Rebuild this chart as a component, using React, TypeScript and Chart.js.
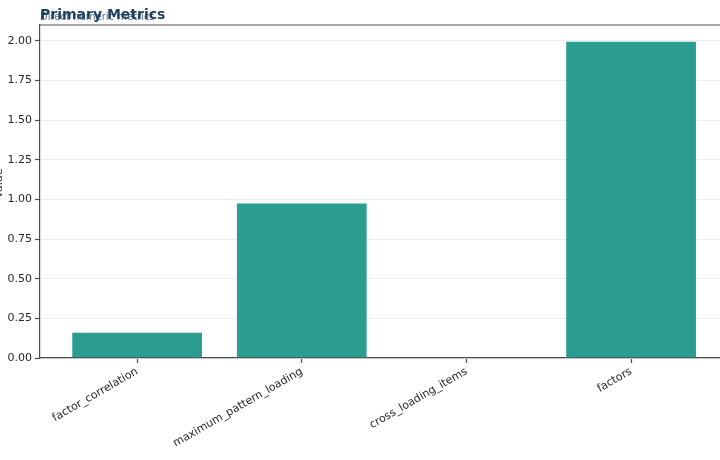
import { Chart, registerables } from "chart.js";
import { useEffect, useRef } from "react";

Chart.register(...registerables);

const categories = ["factor_correlation", "maximum_pattern_loading", "cross_loading_items", "factors"];
const values = [0.165, 0.98, 0, 2.0];
const yTicks = [0, 0.25, 0.5, 0.75, 1.0, 1.25, 1.5, 1.75, 2.0];

const TITLE = "Primary Metrics";
const SUBTITLE = "Direct numeric metrics";
const Y_LABEL = "Value";

const barColor = "#2a9d8f";
const spineColor = "#4d4d4d";
const textColor = "#262626";
const font = "'DejaVu Sans', sans-serif";

// title, subtitle, top spine and the clipped y label
const decorations = {
  id: "decorations",
  afterDraw(chart: any) {
    const { ctx, chartArea } = chart;
    ctx.save();
    ctx.strokeStyle = spineColor;
    ctx.lineWidth = 1.2;
    ctx.beginPath();
    ctx.moveTo(chartArea.left, chartArea.top);
    ctx.lineTo(chartArea.right, chartArea.top);
    ctx.stroke();

    ctx.textBaseline = "alphabetic";
    ctx.textAlign = "left";
    ctx.fillStyle = "#5b7083";
    ctx.font = `10px ${font}`;
    ctx.fillText(SUBTITLE, chartArea.left, 20);
    ctx.fillStyle = "#1f3f5f";
    ctx.font = `bold 14px ${font}`;
    ctx.fillText(TITLE, chartArea.left, 19);

    ctx.translate(-2, (chartArea.top + chartArea.bottom) / 2 - 8);
    ctx.rotate(-Math.PI / 2);
    ctx.textAlign = "center";
    ctx.fillStyle = textColor;
    ctx.font = `11px ${font}`;
    ctx.fillText(Y_LABEL, 0, 4);
    ctx.restore();
  },
};

const App = () => {
  const canvasRef = useRef<HTMLCanvasElement | null>(null);
  const chartRef = useRef<any>(null);

  useEffect(() => {
    document.body.style.margin = "0";
    if (!canvasRef.current) return;
    if (chartRef.current) chartRef.current.destroy();

    chartRef.current = new Chart(canvasRef.current, {
      type: "bar",
      data: {
        datasets: [
          {
            data: values.map((v, i) => ({ x: i, y: v })),
            backgroundColor: barColor,
            borderColor: "rgba(255,255,255,0.25)",
            borderWidth: 1,
            barPercentage: 0.8,
            categoryPercentage: 1,
          },
        ],
      },
      options: {
        animation: false,
        responsive: true,
        maintainAspectRatio: false,
        layout: { padding: { top: 25, right: 0, left: 0, bottom: 0 } },
        plugins: { legend: { display: false }, tooltip: { enabled: false }, title: { display: false } },
        scales: {
          x: {
            type: "linear",
            min: -0.59,
            max: 3.54,
            offset: false,
            afterBuildTicks: (axis: any) => {
              axis.ticks = categories.map((_, i) => ({ value: i }));
            },
            afterFit: (axis: any) => {
              axis.height = 102;
            },
            ticks: {
              autoSkip: false,
              minRotation: 30,
              maxRotation: 30,
              padding: 2,
              color: textColor,
              font: { family: font, size: 11 },
              callback: (v: any) => categories[v] ?? "",
            },
            grid: {
              display: true,
              offset: false,
              drawOnChartArea: false,
              tickLength: 5,
              tickColor: spineColor,
              tickWidth: 1.2,
            },
            border: { display: true, color: spineColor, width: 1.2 },
          },
          y: {
            min: 0,
            max: 2.1,
            afterBuildTicks: (axis: any) => {
              axis.ticks = yTicks.map((v) => ({ value: v }));
            },
            afterFit: (axis: any) => {
              axis.width = 40;
            },
            ticks: {
              padding: 3,
              color: textColor,
              font: { family: font, size: 11 },
              callback: (v: any) => Number(v).toFixed(2),
            },
            grid: { color: "#ececec", lineWidth: 1, tickLength: 5, tickColor: spineColor, tickWidth: 1.2 },
            border: { display: true, color: spineColor, width: 1.2 },
          },
        },
      },
      plugins: [decorations],
    } as any);

    return () => chartRef.current?.destroy();
  }, []);

  return (
    <div style={{ width: 720, height: 460, position: "relative" }}>
      <canvas ref={canvasRef}></canvas>
    </div>
  );
};

export default App;
